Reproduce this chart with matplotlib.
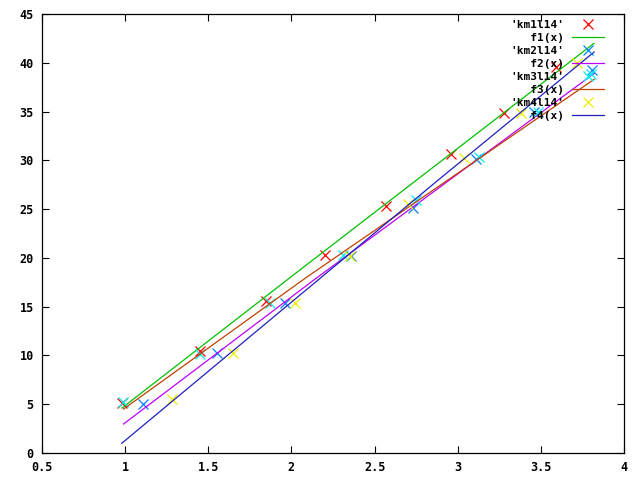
import matplotlib
matplotlib.use('Agg')
import matplotlib.pyplot as plt
import numpy as np

plt.rcParams['font.family'] = 'DejaVu Sans Mono'
plt.rcParams['font.weight'] = 'bold'

# measured points (x, y) for each data file
km1_x = [0.98, 1.45, 1.85, 2.20, 2.57, 2.96, 3.28, 3.59]
km1_y = [5.1, 10.5, 15.6, 20.3, 25.3, 30.6, 34.9, 39.6]
km2_x = [1.11, 1.55, 1.96, 2.36, 2.73, 3.11, 3.46, 3.81]
km2_y = [5.0, 10.2, 15.4, 20.2, 25.1, 30.1, 35.0, 39.3]
km3_x = [0.99, 1.45, 1.87, 2.31, 2.75, 3.13, 3.48, 3.80]
km3_y = [5.2, 10.1, 15.4, 20.3, 25.9, 30.3, 35.0, 38.9]
km4_x = [1.28, 1.65, 2.02, 2.35, 2.70, 3.04, 3.38, 3.72]
km4_y = [5.5, 10.3, 15.4, 20.2, 25.5, 30.2, 34.9, 40.0]

# fitted curves, read at start / middle / end
f1_x = [0.98, 2.05, 3.82]
f1_y = [4.6, 18.75, 42.0]
f2_x = [0.99, 2.14, 3.82]
f2_y = [2.97, 17.8, 38.9]
f3_x = [0.99, 2.09, 3.82]
f3_y = [4.5, 18.0, 38.3]
f4_x = [0.98, 2.87, 3.82]
f4_y = [1.0, 27.8, 41.1]

xticks = [0.5, 1, 1.5, 2, 2.5, 3, 3.5, 4]
yticks = [0, 5, 10, 15, 20, 25, 30, 35, 40, 45]

fig = plt.figure(figsize=(6.4, 4.8), dpi=100)
ax = fig.add_axes([42/640, 27/480, 582/640, 439/480])

ms = 6.5
mew = 0.9
lw = 0.9
ax.plot(km1_x, km1_y, 'x', color='#ff0000', ms=ms, mew=mew, label="'km1l14'")
ax.plot(f1_x, f1_y, '-', color='#00c000', lw=lw, label="   f1(x)")
ax.plot(km2_x, km2_y, 'x', color='#0080ff', ms=ms, mew=mew, label="'km2l14'")
ax.plot(f2_x, f2_y, '-', color='#c000ff', lw=lw, label="   f2(x)")
ax.plot(km3_x, km3_y, 'x', color='#00eeee', ms=ms, mew=mew, label="'km3l14'")
ax.plot(f3_x, f3_y, '-', color='#c04000', lw=lw, label="   f3(x)")
ax.plot(km4_x, km4_y, 'x', color='#eeee00', ms=ms, mew=mew, label="'km4l14'")
ax.plot(f4_x, f4_y, '-', color='#2020c0', lw=lw, label="   f4(x)")

ax.set_xlim(0.5, 4)
ax.set_ylim(0, 45)
ax.set_xticks(xticks)
ax.set_xticklabels([str(t) for t in xticks])
ax.set_yticks(yticks)
ax.tick_params(direction='in', top=True, right=True, length=5, width=0.8,
               labelsize=8.5, pad=6)
for s in ax.spines.values():
    s.set_linewidth(0.9)

leg = ax.legend(loc='upper right', frameon=False, markerfirst=False,
                fontsize=8, labelspacing=0.27, handlelength=2.9,
                handletextpad=0.7, borderaxespad=0.1,
                bbox_to_anchor=(0.975, 1.0))

fig.savefig('out.png', dpi=100)
